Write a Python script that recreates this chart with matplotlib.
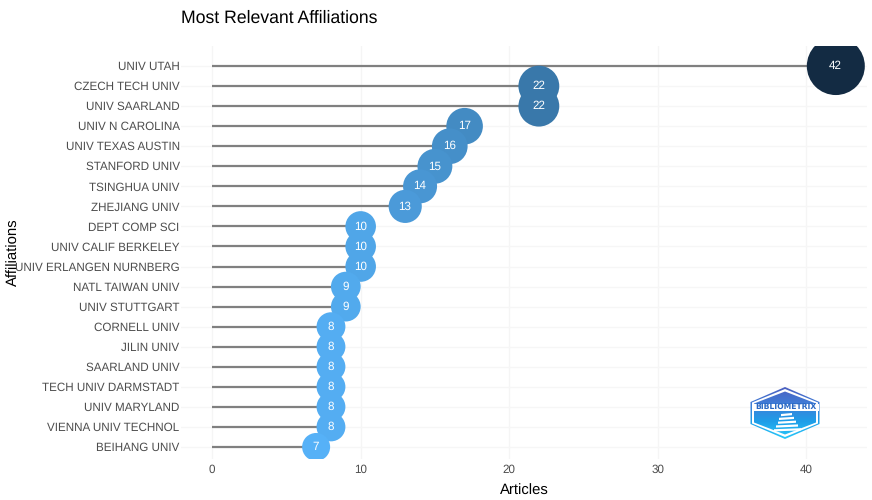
import numpy as np
from matplotlib import pyplot as plt
from matplotlib.colors import LinearSegmentedColormap
from matplotlib.patches import Polygon, Rectangle
from matplotlib.transforms import ScaledTranslation

plt.rcParams['font.family'] = ['Liberation Sans', 'DejaVu Sans']
plt.rcParams['text.hinting'] = 'no_hinting'

affiliations = ["UNIV UTAH", "CZECH TECH UNIV", "UNIV SAARLAND", "UNIV N CAROLINA",
                "UNIV TEXAS AUSTIN", "STANFORD UNIV", "TSINGHUA UNIV", "ZHEJIANG UNIV",
                "DEPT COMP SCI", "UNIV CALIF BERKELEY", "UNIV ERLANGEN NURNBERG",
                "NATL TAIWAN UNIV", "UNIV STUTTGART", "CORNELL UNIV", "JILIN UNIV",
                "SAARLAND UNIV", "TECH UNIV DARMSTADT", "UNIV MARYLAND",
                "VIENNA UNIV TECHNOL", "BEIHANG UNIV"]
articles = [42, 22, 22, 17, 16, 15, 14, 13, 10, 10, 10, 9, 9, 8, 8, 8, 8, 8, 8, 7]
x_ticks = [0, 10, 20, 30, 40]

W, H = 872, 500
fig = plt.figure(figsize=(W / 100, H / 100), dpi=100)

# панель в пикселях: слева 181, справа 867, сверху 46, снизу 459
left, right, top, bottom = 181, 867, 46, 459
ax = fig.add_axes([left / W, 1 - bottom / H, (right - left) / W, (bottom - top) / H])

values = np.array(articles)
y_pos = np.arange(len(values))
ax.set_xlim(-2.1, 44.1)
ax.set_ylim(len(values) - 1 + 0.6, -1)

cmap = LinearSegmentedColormap.from_list("ggblue", ["#56B1F7", "#132B43"])
t = (values - values.min()) / (values.max() - values.min())
radius_px = 14 + 15 * t
sizes = (2 * radius_px * 0.72) ** 2

ax.hlines(y_pos, 0, values, color="#808080", lw=1.6, zorder=2, antialiased=True)
ax.scatter(values, y_pos, s=sizes, c=t, cmap=cmap, vmin=0, vmax=1, linewidths=0, zorder=3)
for v, y in zip(values, y_pos):
    ax.text(v - 0.03, y, str(v), color="white", fontsize=8.4, ha="center", va="center", zorder=4)

ax.set_xticks(x_ticks)
ax.set_yticks(y_pos)
ax.set_yticklabels(affiliations)
ax.grid(True, axis="x", color="#f5f5f5", lw=1.0, zorder=0)
ax.grid(True, axis="y", color="#f6f6f6", lw=1.0, zorder=0)
ax.set_axisbelow(True)
ax.tick_params(axis="both", which="both", length=0)
ax.tick_params(axis="x", labelsize=8.4, labelcolor="#4d4d4d", pad=4)
ax.tick_params(axis="y", labelsize=8.4, labelcolor="#4d4d4d", pad=1)
shift = ScaledTranslation(0, 0.3 / 100, fig.dpi_scale_trans)
for lab in ax.get_yticklabels():
    lab.set_transform(lab.get_transform() + shift)
for s in ax.spines.values():
    s.set_visible(False)

fig.text(181 / W, 1 - 18 / H, "Most Relevant Affiliations", fontsize=12.7, color="black",
         ha="left", va="center")
fig.text(524 / W, 1 - 491 / H, "Articles", fontsize=10.7, ha="center", va="center")
fig.text(14 / W, 1 - 252 / H, "Affiliations", fontsize=10.7, rotation=90, ha="center", va="center")

# логотип bibliometrix
lx0, lx1, ly0, ly1 = 749, 822, 385, 441
logo = fig.add_axes([lx0 / W, 1 - ly1 / H, (lx1 - lx0) / W, (ly1 - ly0) / H], zorder=5)
logo.axis("off")
logo.patch.set_alpha(0)

grad = LinearSegmentedColormap.from_list("logo", ["#4b5fc0", "#3f7ed8", "#1e9ee8", "#28c8fa"])
extent = (lx0, lx1, 439, 387)
g = np.linspace(0, 1, 64).reshape(-1, 1)


def hexagon(cx, cy, rx, ry, shoulder):
    return [(cx, cy - ry), (cx + rx, cy - shoulder), (cx + rx, cy + shoulder),
            (cx, cy + ry), (cx - rx, cy + shoulder), (cx - rx, cy - shoulder)]


outer = Polygon(hexagon(785, 413, 34.5, 26, 11), closed=True, fc="none", ec="none")
logo.add_patch(outer)
im = logo.imshow(g, cmap=grad, extent=extent, aspect="auto", zorder=1)
im.set_clip_path(outer)

logo.add_patch(Polygon(hexagon(785, 413, 33, 24, 10.5), closed=True, fc="white", ec="none", zorder=2))
inner = Polygon(hexagon(785, 413, 31, 21.5, 9.5), closed=True, fc="none", ec="none", zorder=3)
logo.add_patch(inner)
im2 = logo.imshow(g, cmap=grad, extent=extent, aspect="auto", zorder=3)
im2.set_clip_path(inner)
logo.set_xlim(lx0, lx1)
logo.set_ylim(ly1, ly0)

logo.add_patch(Rectangle((752.5, 403.5), 66, 7.5, fc="white", ec="none", zorder=4))
logo.text(785.5, 407.4, "BIBLIOMETRIX", fontsize=5.5, fontweight="bold", color="#2a68c4",
          family="DejaVu Sans", ha="center", va="center", zorder=5)
for k, (xa, xb) in enumerate([(781, 792), (779, 794), (778, 796), (776, 798), (774, 801)]):
    yy = 414 + k * 3.8
    logo.add_patch(Polygon([(xa, yy), (xb, yy - 1), (xb, yy + 1.2), (xa, yy + 2.2)], closed=True,
                           fc="white", ec="none", zorder=4))

fig.savefig("out.png", dpi=100)
